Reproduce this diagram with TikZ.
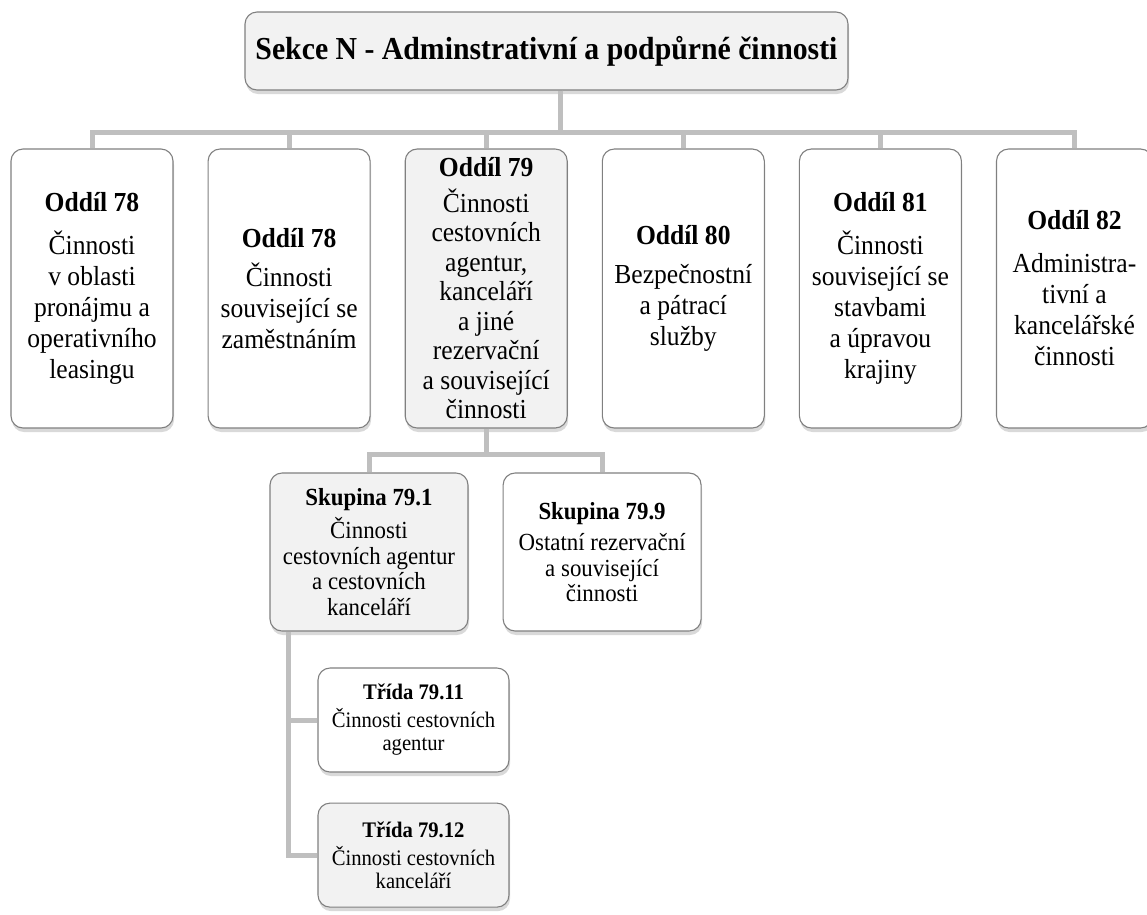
\documentclass[tikz,border=0pt]{standalone}
\usepackage{fontspec}
\setmainfont{Liberation Serif}[FakeStretch=0.93]
\usetikzlibrary{positioning,shadows}

\begin{document}
\begin{tikzpicture}[
        x=1pt, y=1pt,
        conn/.style={line width=5pt, draw=black!25},
        box/.style={
            draw=black!50,
            rounded corners=12pt,
            line width=1.1pt,
            align=flush center,
            inner sep=0pt,
            drop shadow={shadow xshift=1pt, shadow yshift=-4pt, opacity=0.3}
        },
        oddil/.style={
            box, fill=white,
            minimum width=162pt, minimum height=279pt,
            text width=156pt,
            font=\fontsize{27.5}{31}\selectfont
        },
        skupina/.style={
            box, fill=white,
            minimum width=198pt, minimum height=158pt,
            text width=194pt,
            font=\fontsize{24.6}{25.5}\selectfont
        },
        trida/.style={
            box, fill=white,
            minimum width=191pt, minimum height=104pt,
            text width=189pt,
            font=\fontsize{22.2}{23}\selectfont
        },
        grey/.style={fill=black!5}
    ]

    \useasboundingbox (0,0) rectangle (1147,-914);

    % Step 1: section header
    \node[
        box, grey,
        minimum width=603pt, minimum height=78pt,
        font=\fontsize{32}{36}\selectfont\bfseries
    ] (sekce) at (546.5,-51) {Sekce N - Adminstrativní a podpůrné činnosti};

    % Step 2: divisions
    \node[oddil] (o78a) at (92,-288.5) {
        {\bfseries Oddíl 78}\\[12pt]
        Činnosti\\ v oblasti\\ pronájmu a\\ operativního\\ leasingu
    };
    \node[oddil, right=34pt of o78a] (o78b) {
        {\bfseries Oddíl 78}\\[8pt]
        Činnosti\\ související se\\ zaměstnáním
    };
    \node[oddil, grey, font=\fontsize{27.5}{29.5}\selectfont, right=34pt of o78b] (o79) {
        {\bfseries Oddíl 79}\\[6pt]
        Činnosti\\ cestovních\\ agentur,\\ kanceláří\\ a jiné\\ rezervační\\ a související\\ činnosti
    };
    \node[oddil, right=34pt of o79] (o80) {
        {\bfseries Oddíl 80}\\[8pt]
        Bezpečnostní\\ a pátrací\\ služby
    };
    \node[oddil, right=34pt of o80] (o81) {
        {\bfseries Oddíl 81}\\[12pt]
        Činnosti\\ související se\\ stavbami\\ a úpravou\\ krajiny
    };
    \node[oddil, minimum width=154pt, right=34pt of o81] (o82) {
        {\bfseries Oddíl 82}\\[12pt]
        Administra-\\ tivní a\\ kancelářské\\ činnosti
    };

    \foreach \n in {o78a,o78b,o79,o80,o81,o82}
        \draw[conn] ([xshift=13.5pt]sekce.south) -- ++(0,-42pt) -| (\n.north);

    % Step 3: groups of division 79
    \node[skupina, grey] (s791) at (369,-552) {
        {\bfseries Skupina 79.1}\\[6pt]
        Činnosti\\ cestovních agentur\\ a cestovních\\ kanceláří
    };
    \node[skupina, right=34pt of s791] (s799) {
        {\bfseries Skupina 79.9}\\[6pt]
        Ostatní rezervační\\ a související\\ činnosti
    };

    \draw[conn] (o79.south) -- ++(0,-26pt) -| (s791.north);
    \draw[conn] (o79.south) -- ++(0,-26pt) -| (s799.north);

    % Step 4: classes of group 79.1
    \node[trida] (t7911) at (413.5,-720) {
        {\bfseries Třída 79.11}\\[5pt]
        Činnosti cestovních\\ agentur
    };
    \node[trida, grey, below=30pt of t7911] (t7912) {
        {\bfseries Třída 79.12}\\[5pt]
        Činnosti cestovních\\ kanceláří
    };

    \draw[conn] ([xshift=19pt]s791.south west) |- (t7911.west);
    \draw[conn] ([xshift=19pt]s791.south west) |- (t7912.west);

\end{tikzpicture}
\end{document}
